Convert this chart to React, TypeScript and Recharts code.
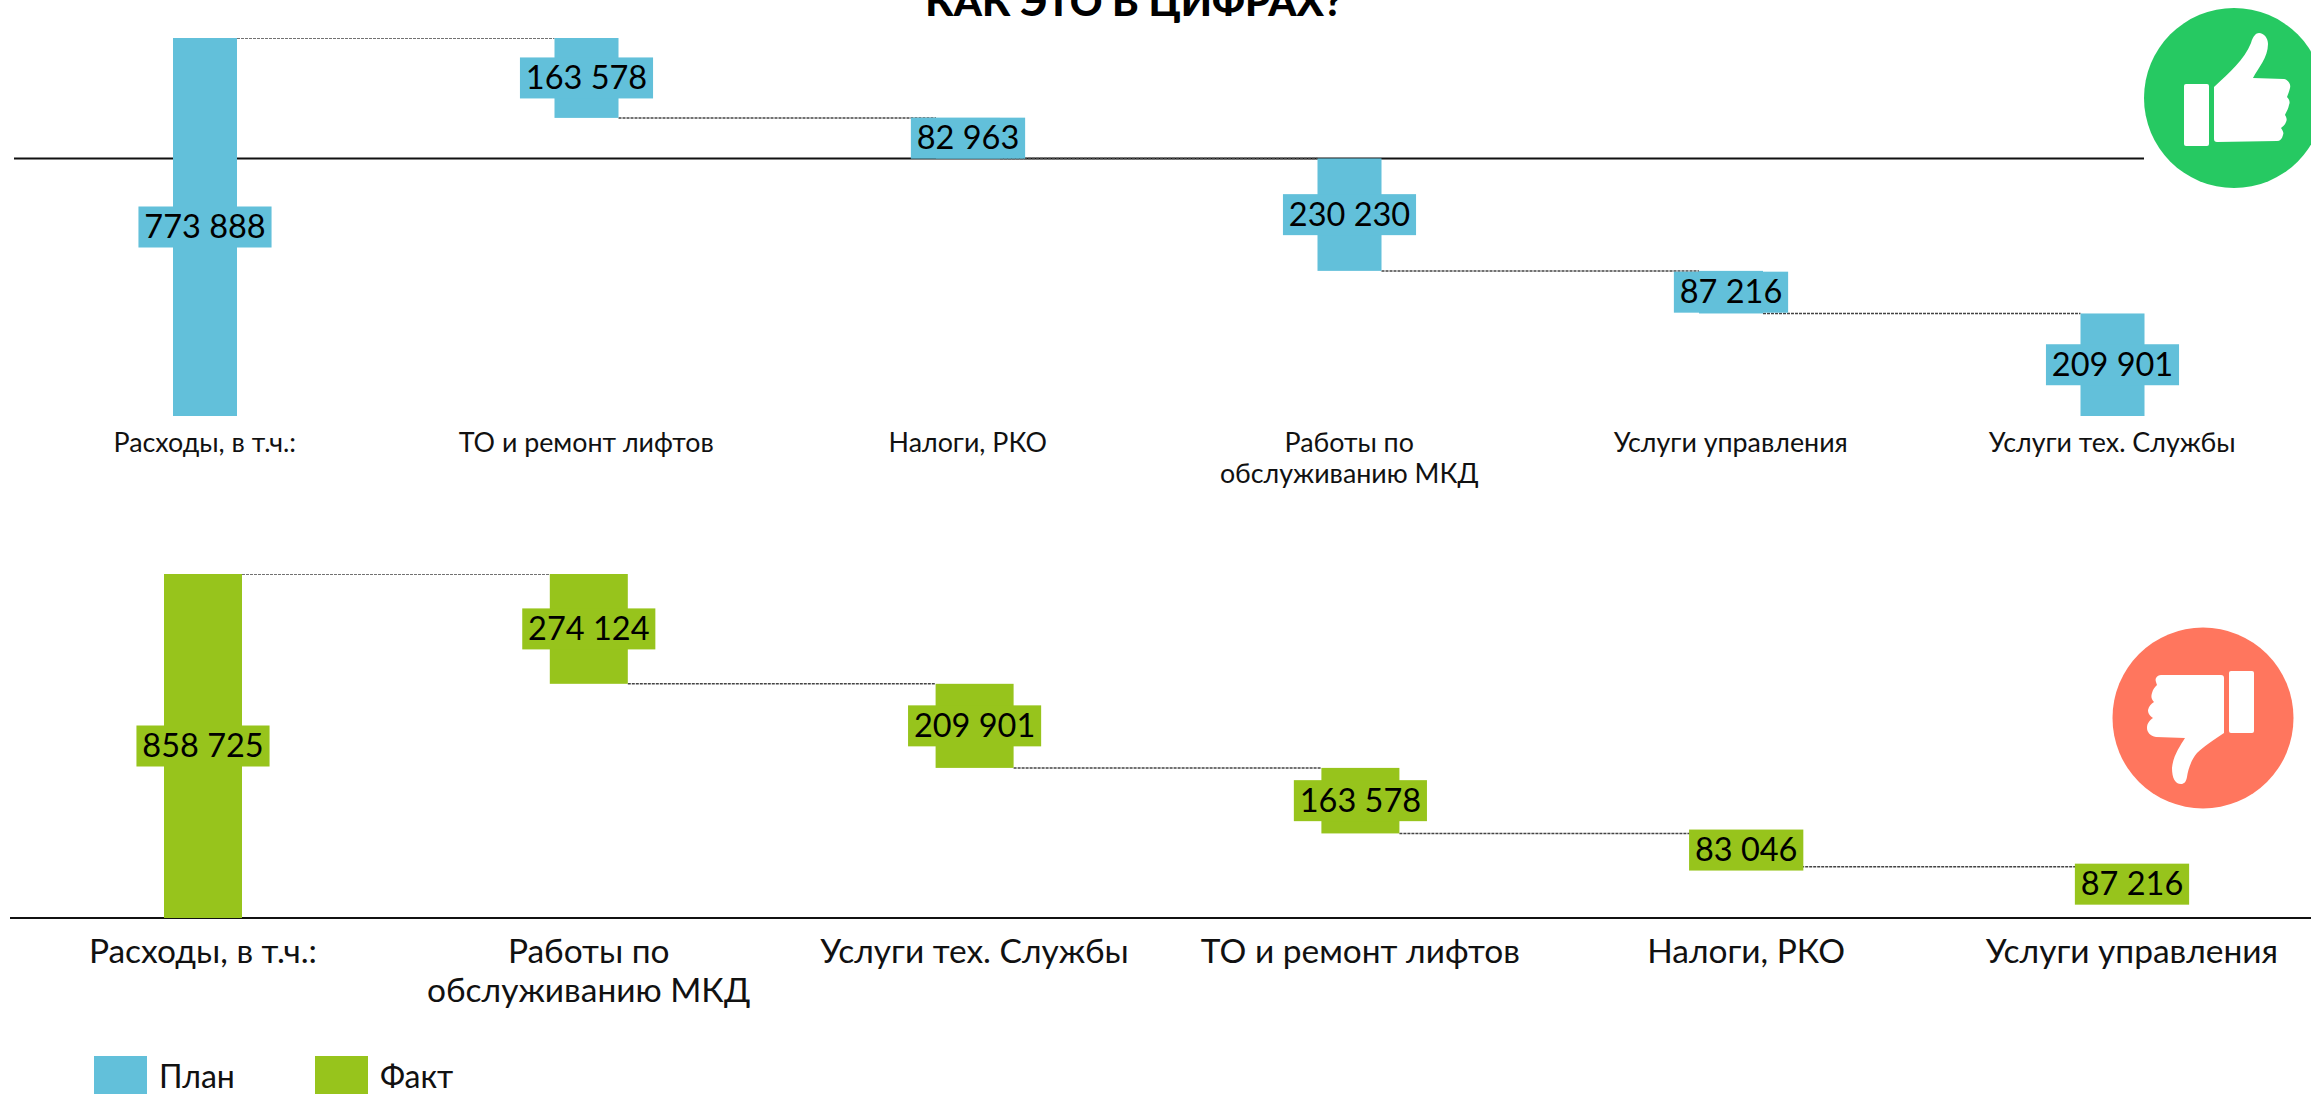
import { BarChart, Bar, XAxis, YAxis, ReferenceLine, LabelList } from 'recharts'

const planCategories = ['Расходы, в т.ч.:', 'ТО и ремонт лифтов', 'Налоги, РКО', 'Работы по\nобслуживанию МКД', 'Услуги управления', 'Услуги тех. Службы']
const planValues = [773888, 163578, 82963, 230230, 87216, 209901]
const factCategories = ['Расходы, в т.ч.:', 'Работы по\nобслуживанию МКД', 'Услуги тех. Службы', 'ТО и ремонт лифтов', 'Налоги, РКО', 'Услуги управления']
const factValues = [858725, 274124, 209901, 163578, 83046, 87216]

const legendNames = ['План', 'Факт']
const BLUE = '#62C0DA'
const GREEN = '#97C41C'
const FONT = 'Lato, sans-serif'

// total bar first, then each item hanging from where the previous one ended
function buildRows(categories: string[], values: number[]) {
  let level = values[0]
  return categories.map((name, i) => {
    if (i === 0) return { name, range: [0, level], value: values[0] }
    const top = level
    level = top - values[i]
    return { name, range: [level, top], value: values[i] }
  })
}

// bar plus the dashed connector running from its edge to the next bar
function StepBar(props: any) {
  const { x, y, width, height, index, fill, band, count } = props
  const level = index === 0 ? y : y + height
  return (
    <g>
      {index < count - 1 && (
        <line x1={x + width} y1={level} x2={x + band} y2={level} stroke="#444" strokeWidth={1.5} strokeDasharray="3 1" />
      )}
      <rect x={x} y={y} width={width} height={height} fill={fill} />
    </g>
  )
}

function ValueLabel(props: any) {
  const { x, y, width, height, value, boxFill } = props
  const text = value.toLocaleString('ru-RU').replace(/\s/g, ' ')
  const digits = text.replace(/\s/g, '').length
  const boxW = digits * 18.85 + 20
  const cx = x + width / 2
  const cy = y + height / 2
  return (
    <g>
      <rect x={cx - boxW / 2} y={cy - 20.5} width={boxW} height={41} fill={boxFill} />
      <text x={cx} y={cy + 11} textAnchor="middle" fontFamily={FONT} fontSize={32.5} fill="#000">{text}</text>
    </g>
  )
}

function CategoryTick(props: any) {
  const { x, y, payload, fontSize, lineGap, first } = props
  return (
    <text x={x} y={y + first} textAnchor="middle" fontFamily={FONT} fontSize={fontSize} fill="#111">
      {String(payload.value).split('\n').map((line, i) => (
        <tspan key={i} x={x} dy={i === 0 ? 0 : lineGap}>{line}</tspan>
      ))}
    </text>
  )
}

function Waterfall({ categories, values, fill, top, plotH, band, left, axisLevel, axisEndTrim, fontSize, lineGap, first, barSize, axisH }: any) {
  const rows = buildRows(categories, values)
  return (
    <div style={{ position: 'absolute', left, top }}>
      <BarChart
        width={band * 6}
        height={plotH + axisH}
        data={rows}
        margin={{ top: 0, right: 0, bottom: 0, left: 0 }}
      >
        <XAxis
          dataKey="name"
          interval={0}
          axisLine={false}
          tickLine={false}
          height={axisH}
          tick={<CategoryTick fontSize={fontSize} lineGap={lineGap} first={first} />}
        />
        <YAxis hide domain={[0, values[0]]} />
        <ReferenceLine
          y={axisLevel}
          zIndex={100}
          ifOverflow="visible"
          shape={(p: any) => <line x1={p.x1} y1={p.y1} x2={p.x2 - axisEndTrim} y2={p.y2} stroke="#111" strokeWidth={2} />}
        />
        <Bar
          dataKey="range"
          fill={fill}
          barSize={barSize}
          isAnimationActive={false}
          shape={(p: any) => <StepBar {...p} band={band} count={rows.length} />}
        >
          <LabelList dataKey="value" content={<ValueLabel boxFill={fill} />} />
        </Bar>
      </BarChart>
    </div>
  )
}

function Icons() {
  return (
    <svg width={2311} height={1094} style={{ position: 'absolute', left: 0, top: 0 }}>
      <circle cx={2234} cy={98} r={90} fill="#26C962" />
      <rect x={2184} y={84} width={25} height={62} rx={2} fill="#fff" />
      <path d="M2214 87 C2230 72 2244 60 2251 43 C2253 36 2256 33 2259 33 C2264 33 2268 38 2268 44 C2268 58 2258 68 2253 78 L2284 79 C2289 80 2291 85 2290 88 C2289 92 2288 94 2287 97 C2290 100 2290 103 2289 105 C2288 110 2286 112 2285 115 C2287 118 2287 120 2286 122 C2285 125 2283 126 2281 128 C2283 131 2284 133 2283 135 C2282 139 2280 141 2277 141 L2217 142 C2215 142 2214 141 2214 139 Z" fill="#fff" />
      <circle cx={2203} cy={718} r={90.5} fill="#FF765E" />
      <rect x={2229} y={671} width={25} height={62} rx={2} fill="#fff" />
      <path d="M2221 675 C2223 675 2224 676 2224 678 L2224 733 C2214 740 2204 746 2197 753 C2191 760 2188 770 2187 777 C2186 782 2184 784 2181 784 C2175 784 2172 778 2172 768 C2173 756 2180 746 2185 738 L2156 737 C2150 736 2147 732 2147 728 C2147 723 2150 720 2153 718 C2149 715 2148 713 2148 710 C2149 706 2151 704 2154 702 C2151 699 2151 696 2152 693 C2153 689 2155 687 2157 685 C2156 682 2155 680 2156 678 C2157 676 2159 675 2161 675 Z" fill="#fff" />
    </svg>
  )
}

export default function App() {
  return (
    <div style={{ position: 'absolute', left: 0, top: 0, width: 2311, height: 1094, overflow: 'hidden', background: '#fff', fontFamily: FONT }}>
      <div style={{ position: 'absolute', left: 0, width: 2268, top: -24, textAlign: 'center', fontWeight: 900, fontSize: 40.4, lineHeight: '50px', color: '#000' }}>
        КАК ЭТО В ЦИФРАХ?
      </div>
      <Waterfall
        categories={planCategories} values={planValues} fill={BLUE}
        left={14.25} top={38} band={381.5} plotH={378} axisH={130}
        axisLevel={527347} axisEndTrim={159} barSize={64}
        fontSize={26.8} lineGap={31} first={28}
      />
      <Waterfall
        categories={factCategories} values={factValues} fill={GREEN}
        left={10} top={574} band={385.8} plotH={344} axisH={120}
        axisLevel={0} axisEndTrim={0} barSize={78}
        fontSize={33.5} lineGap={39.5} first={37}
      />
      <Icons />
      {legendNames.map((name, i) => (
        <div key={name}>
          <div style={{ position: 'absolute', left: 94 + i * 221, top: 1056, width: 53, height: 38, background: i === 0 ? BLUE : GREEN }} />
          <div style={{ position: 'absolute', left: 159 + i * 221, top: 1057, fontSize: 32, lineHeight: '37px', color: '#111' }}>{name}</div>
        </div>
      ))}
    </div>
  )
}
